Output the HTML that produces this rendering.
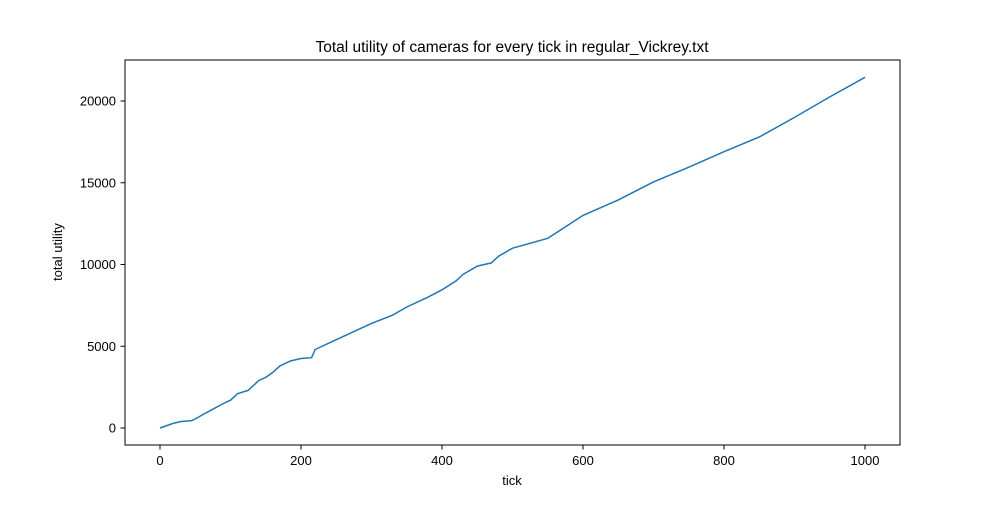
<!DOCTYPE html>
<html><head><meta charset="utf-8"><style>
body{margin:0;background:#fff;}
svg{font-family:"Liberation Sans","DejaVu Sans",sans-serif;}
</style></head><body>
<svg id="chart" width="1000" height="500">
<rect width="1000" height="500" fill="#fff"/>
<text x="512" y="52" font-size="15.5" text-anchor="middle">Total utility of cameras for every tick in regular_Vickrey.txt</text>
<g id="xt"></g><g id="yt"></g>
<path id="line" fill="none" stroke="#1f77b4" stroke-width="1.5"/>
<rect x="125" y="60" width="775" height="385" fill="none" stroke="#000" stroke-width="1"/>
<text x="512" y="485" font-size="13" text-anchor="middle">tick</text>
<text x="62" y="252" font-size="13" text-anchor="middle" transform="rotate(-90 62 252)">total utility</text>
</svg>
<script>
const ticks=[0,10,20,30,45,50,60,75,90,100,110,125,140,150,160,170,185,200,215,220,250,280,300,330,350,380,400,420,430,450,470,480,500,550,600,650,700,750,800,850,900,950,1000];
const utility=[0,150,300,400,450,550,800,1150,1500,1700,2100,2300,2900,3100,3400,3800,4100,4250,4300,4800,5400,6000,6400,6900,7400,8000,8450,9000,9400,9900,10100,10500,11000,11600,13000,13950,15050,15950,16900,17800,19000,20250,21450];
const xTickVals=[0,200,400,600,800,1000];
const yTickVals=[0,5000,10000,15000,20000];
const X=v=>160+v*0.705, Y=v=>428-v*0.01635;
const ns="http://www.w3.org/2000/svg";
let d="";ticks.forEach((t,i)=>{d+=(i?"L":"M")+X(t).toFixed(1)+","+Y(utility[i]).toFixed(1);});
document.getElementById("line").setAttribute("d",d);
const xt=document.getElementById("xt"),yt=document.getElementById("yt");
xTickVals.forEach(v=>{
 const l=document.createElementNS(ns,"line");l.setAttribute("x1",X(v));l.setAttribute("x2",X(v));l.setAttribute("y1",445);l.setAttribute("y2",449.5);l.setAttribute("stroke","#000");
 
 
 xt.appendChild(l);
 const t=document.createElementNS(ns,"text");t.setAttribute("x",X(v));t.setAttribute("y",465);t.setAttribute("font-size","13");t.setAttribute("text-anchor","middle");t.textContent=v;
 
 
 xt.appendChild(t);
});
yTickVals.forEach(v=>{
 const l=document.createElementNS(ns,"line");l.setAttribute("x1",120.5);l.setAttribute("x2",125);l.setAttribute("y1",Y(v));l.setAttribute("y2",Y(v));l.setAttribute("stroke","#000");
 
 
 yt.appendChild(l);
 const t=document.createElementNS(ns,"text");t.setAttribute("x",116);t.setAttribute("y",Y(v)+4.5);t.setAttribute("font-size","13");t.setAttribute("text-anchor","end");t.textContent=v;
 
 
 yt.appendChild(t);
});
</script>
</body></html>
